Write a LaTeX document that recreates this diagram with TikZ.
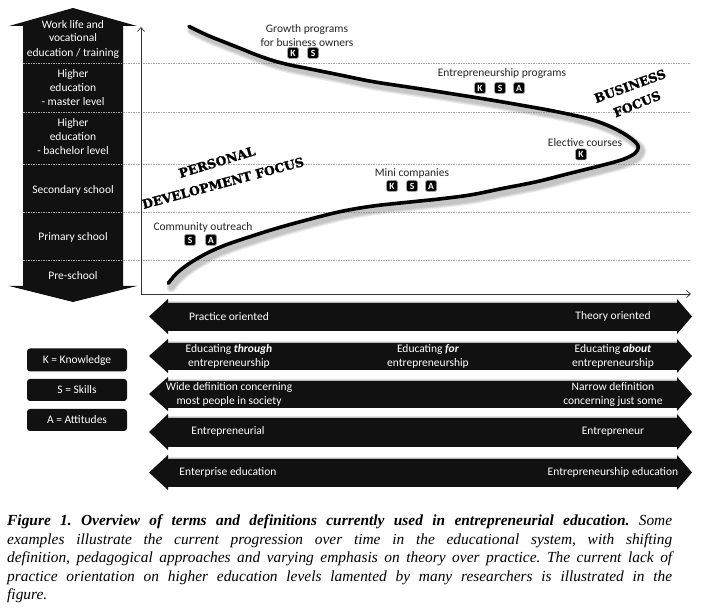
\documentclass[tikz,border=0pt]{standalone}
\usepackage{fontspec}
\setmainfont{Liberation Serif}
\setsansfont{Carlito}
\newfontfamily\slabfont[BoldFeatures={FakeBold=1.6}]{DejaVu Serif}
\usetikzlibrary{arrows.meta}
\definecolor{barblack}{HTML}{111111}
\definecolor{labelgray}{HTML}{262626}
\newcommand\dbararrow[2]{%
  \pgfmathsetmacro\dbMid{(#1+#2)/2}%
  \pgfmathsetmacro\dbTa{#1-3}%
  \pgfmathsetmacro\dbBa{#2+3}%
  \fill[barblack] (149,\dbMid) -- (168,\dbTa) -- (168,#1) -- (677,#1) -- (677,\dbTa) -- (692,\dbMid)
     -- (677,\dbBa) -- (677,#2) -- (168,#2) -- (168,\dbBa) -- cycle;
  \draw[gray!55, line width=0.9pt] (168,#1+0.5) -- (677,#1+0.5);
}
\begin{document}
\begin{tikzpicture}[x=1pt,y=-1pt,
  lbl/.style={text=labelgray, font=\sffamily\fontsize{11.5}{13.5}\selectfont, align=center, inner sep=0},
  coltext/.style={text=white, font=\sffamily\fontsize{11.5}{14}\selectfont, align=center, inner sep=0},
  bartext/.style={text=white, font=\sffamily\fontsize{11.5}{13.5}\selectfont, align=center, inner sep=0},
  kbox/.style={fill=black, draw=gray!70, line width=0.5pt, rounded corners=1.5pt, minimum size=11pt, inner sep=0,
     text=white, font=\sffamily\bfseries\fontsize{9.5}{9.5}\selectfont},
  legend/.style={fill=barblack, rounded corners=3pt, minimum width=100pt, minimum height=23pt, inner sep=0,
     text=white, font=\sffamily\fontsize{11.5}{13.5}\selectfont},
  slab/.style={font=\slabfont\bfseries\fontsize{12.5}{12.5}\selectfont, inner sep=0, text=black},
  capline/.style={anchor=base west, inner sep=0, font=\frenchspacing\itshape\fontsize{15.4}{19}\selectfont},
  curve/.style={line width=3.6pt, line cap=round},
  shade/.style={line cap=round, gray, opacity=0.18},
  sep/.style={gray!70, line width=0.5pt, dash pattern=on 1.5pt off 1pt},
  axis/.style={black!80, line width=0.7pt}
]
\useasboundingbox (0,0) rectangle (702,609);
\fill[white] (0,0) rectangle (702,609);

% ---------- left double arrow column ----------
\fill[barblack] (73,8) -- (137,26) -- (123,26) -- (123,286) -- (137,286) -- (73,302)
   -- (9,286) -- (23,286) -- (23,26) -- (9,26) -- cycle;

% separators
\foreach \yy in {63.5,112.5,164,212.5,260}{
  \draw[sep] (23,\yy) -- (690,\yy);
}

\node[coltext] (c1) at (73,39) {Work life and\\vocational\\education / training};
\node[coltext] (c2) at (73,88) {Higher\\education\\- master level};
\node[coltext] (c3) at (73,137) {Higher\\education\\- bachelor level};
\node[coltext] (c4) at (73,190) {Secondary school};
\node[coltext] (c5) at (73,237) {Primary school};
\node[coltext] (c6) at (73,276) {Pre-school};

% ---------- axes ----------
\coordinate (org) at (141,294);
\coordinate (ytop) at (141,27);
\coordinate (xend) at (691,294);
\draw[axis, -{Straight Barb[length=4pt,width=7pt]}] (org) -- (ytop);
\draw[axis, -{Straight Barb[length=4pt,width=7pt]}] (org) -- (xend);

% ---------- curve with shadow ----------
\def\curvepts{(189,26.5) (206.7,35) (223.3,41.7) (240,48.3) (256.7,55) (273.3,60.7) (290,65) (306.7,68.3) (340,75) (373.3,81.7) (420,88.8) (453.3,94) (486.7,99.3) (520,105) (553.3,111) (586.7,118.3) (606.7,125) (623.3,133.3) (635,141.7) (638.3,147) (635,153.3) (623.3,159.3) (603.3,165) (570,173.3) (536.7,181.7) (503.3,188.3) (470,195) (436.7,199.3) (420,201) (373.3,206) (340,211.7) (306.7,220) (273.3,229.3) (240,240) (223,246) (206.7,253.3) (190,263) (176.7,273.3) (168.3,283.3)}
\begin{scope}[shift={(3,4)}]
  \foreach \w in {10,7.5,5.5}{
    \draw[shade, line width=\w pt] plot[smooth, tension=0.55] coordinates {\curvepts};
  }
\end{scope}
\draw[curve] plot[smooth, tension=0.55] coordinates {\curvepts};

% ---------- curve labels ----------
\node[lbl] (grow) at (307,35.5) {Growth programs\\for business owners};
\node[kbox] (growK) at (293,53) {K};
\node[kbox] (growS) at (313,53) {S};

\node[lbl] (entr) at (502,74) {Entrepreneurship programs};
\node[kbox] (entrK) at (480,88) {K};
\node[kbox] (entrS) at (500,88) {S};
\node[kbox] (entrA) at (519,88) {A};

\node[lbl] (elec) at (585,143) {Elective courses};
\node[kbox] (elecK) at (581,154.5) {K};

\node[lbl] (mini) at (412,173) {Mini companies};
\node[kbox] (miniK) at (392,186) {K};
\node[kbox] (miniS) at (412,186) {S};
\node[kbox] (miniA) at (431,186) {A};

\node[lbl] (comm) at (203,227) {Community outreach};
\node[kbox] (commS) at (190,240) {S};
\node[kbox] (commA) at (211,240) {A};

\node[slab, rotate=17] (pers) at (217,162) {PERSONAL};
\node[slab, rotate=15] (devf) at (223,183) {DEVELOPMENT FOCUS};
\node[slab, rotate=20] (busi) at (630,86) {BUSINESS};
\node[slab, rotate=22] (bfoc) at (637,104) {FOCUS};

% ---------- bars ----------
\dbararrow{302}{331}
\dbararrow{342}{370}
\dbararrow{380}{408}
\dbararrow{417}{447}
\dbararrow{458}{487}

\node[bartext] (b1l) at (229,316.5) {Practice oriented};
\node[bartext] (b1r) at (613,316.5) {Theory oriented};
\node[bartext] (b2l) at (229,356.5) {Educating \textbf{\textit{through}}\\entrepreneurship};
\node[bartext] (b2m) at (428,356.5) {Educating \textbf{\textit{for}}\\entrepreneurship};
\node[bartext] (b2r) at (613,356.5) {Educating \textbf{\textit{about}}\\entrepreneurship};
\node[bartext] (b3l) at (229,394.5) {Wide definition concerning\\most people in society};
\node[bartext] (b3r) at (613,394.5) {Narrow definition\\concerning just some};
\node[bartext] (b4l) at (228,431.5) {Entrepreneurial};
\node[bartext] (b4r) at (613,431.5) {Entrepreneur};
\node[bartext] (b5l) at (228,472) {Enterprise education};
\node[bartext] (b5r) at (613,472) {Entrepreneurship education};

% ---------- legend ----------
\node[legend] (legK) at (77,360) {K = Knowledge};
\node[legend, minimum height=22pt] (legS) at (77,390) {S = Skills};
\node[legend, minimum height=22pt] (legA) at (77,420) {A = Attitudes};

% ---------- caption ----------
\node[capline] (cap1) at (7,525.5) {\makebox[665pt][s]{\bfseries Figure 1. Overview of terms and definitions currently used in entrepreneurial education.\mdseries{} Some}};
\node[capline] (cap2) at (7,544) {\makebox[665pt][s]{examples illustrate the current progression over time in the educational system, with shifting}};
\node[capline] (cap3) at (7,562.5) {\makebox[665pt][s]{definition, pedagogical approaches and varying emphasis on theory over practice. The current lack of}};
\node[capline] (cap4) at (7,581) {\makebox[665pt][s]{practice orientation on higher education levels lamented by many researchers is illustrated in the}};
\node[capline] (cap5) at (7,599.5) {figure.};
\end{tikzpicture}
\end{document}
